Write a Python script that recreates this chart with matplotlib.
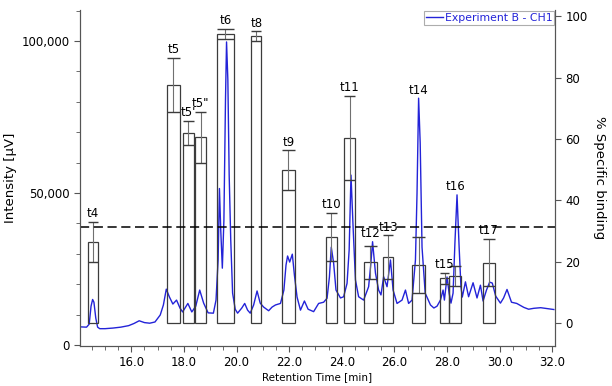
import matplotlib
matplotlib.use("Agg")
import matplotlib.pyplot as plt
from matplotlib.ticker import MultipleLocator, FuncFormatter

# chromatogram trace (retention time in min, intensity in uV)
rt = [14.05, 14.30, 14.40, 14.47, 14.53, 14.58, 14.65, 14.72, 14.80, 15.0,
      15.3, 15.6, 15.9, 16.1, 16.3, 16.5, 16.7, 16.9, 17.1, 17.22,
      17.33, 17.45, 17.58, 17.72, 17.85, 17.95, 18.15, 18.3, 18.45, 18.6,
      18.75, 18.92, 19.12, 19.22, 19.30, 19.35, 19.40, 19.46, 19.52, 19.58,
      19.62, 19.67, 19.72, 19.78, 19.85, 19.95, 20.04, 20.2, 20.31, 20.42,
      20.52, 20.65, 20.78, 20.9, 21.03, 21.22, 21.35, 21.48, 21.67, 21.8,
      21.88, 21.94, 22.02, 22.12, 22.2, 22.3, 22.43, 22.58, 22.72, 22.93,
      23.12, 23.31, 23.44, 23.53, 23.60, 23.69, 23.78, 23.95, 24.07, 24.2,
      24.28, 24.35, 24.43, 24.52, 24.64, 24.83, 25.02, 25.10, 25.17, 25.28,
      25.4, 25.49, 25.59, 25.72, 25.85, 25.95, 26.1, 26.29, 26.42, 26.54,
      26.67, 26.8, 26.86, 26.92, 26.98, 27.05, 27.17, 27.37, 27.5, 27.62,
      27.75, 27.85, 27.9, 28.0, 28.08, 28.15, 28.23, 28.3, 28.38, 28.46,
      28.53, 28.58, 28.7, 28.82, 28.99, 29.14, 29.27, 29.37, 29.5, 29.62,
      29.72, 29.85, 30.03, 30.15, 30.28, 30.45, 30.65, 30.92, 31.1, 31.3,
      31.56, 31.81, 32.06]
intensity = [6000, 5900, 6900, 12800, 15000, 14100, 8900, 5900, 5400, 5400,
             5600, 5900, 6400, 7100, 8000, 7400, 7200, 7600, 9900, 13200,
             18400, 15800, 13500, 14800, 12200, 10900, 13700, 10900, 12800, 18100,
             13800, 10600, 10500, 14800, 28000, 51500, 37800, 25300, 41100, 80600,
             99700, 87200, 55900, 34500, 17100, 11800, 10500, 12200, 13700, 11500,
             10500, 13200, 17800, 13800, 12500, 11300, 12500, 13200, 13700, 18100,
             26300, 29300, 27300, 29900, 23000, 15800, 11500, 14500, 11800, 11000,
             13700, 14100, 15400, 22400, 32200, 27000, 18100, 15500, 15900, 20300,
             31300, 55900, 38800, 21400, 15900, 14800, 19200, 26300, 34000, 23700,
             18100, 16500, 22500, 19200, 28000, 18100, 13700, 14800, 18100, 13700,
             14800, 28000, 50000, 81200, 66500, 32200, 17100, 13200, 12200, 12800,
             14800, 18100, 14800, 22400, 17100, 13800, 17100, 33600, 49400, 32200,
             19100, 15800, 20800, 15900, 20500, 15500, 19700, 14500, 18100, 20700,
             20400, 16100, 13800, 15500, 18300, 14100, 13700, 12400, 11800, 12100,
             12300, 12000, 11700]

# collected fractions (% specific binding, mean and SD)
fractions = ["t4", "t5", "t5'", "t5\"", "t6", "t8", "t9", "t10", "t11",
             "t12", "t13", "t14", "t15", "t16", "t17"]
frac_start = [14.35, 17.34, 17.97, 18.43, 19.27, 20.56, 21.73, 23.39, 24.07,
              24.86, 25.56, 26.66, 27.74, 28.08, 29.38]
frac_end = [14.73, 17.85, 18.37, 18.84, 19.89, 20.94, 22.21, 23.82, 24.52,
            25.32, 25.95, 27.18, 28.08, 28.54, 29.81]
binding = [26.5, 77.6, 61.9, 60.5, 94.3, 93.5, 49.8, 28.0, 60.3,
           19.8, 21.5, 18.9, 14.6, 15.3, 19.7]
binding_sd = [6.5, 8.8, 4.0, 8.3, 1.6, 1.6, 6.6, 7.9, 13.8,
              5.4, 7.2, 9.1, 1.8, 3.2, 7.8]
threshold = 31.4

axis_col = "#555555"
blue = "#2323d8"

fig = plt.figure(figsize=(6.12, 3.86), dpi=100)
ax = fig.add_axes([0.1307, 0.1036, 0.776, 0.8705])
ax2 = ax.twinx()

ax.plot(rt, intensity, color=blue, lw=1.0, label="Experiment B - CH1", zorder=3)
ax.set_xlim(14.05, 32.1)
ax.set_ylim(-300, 110200)
ax.xaxis.set_major_locator(MultipleLocator(2.0))
ax.xaxis.set_minor_locator(MultipleLocator(0.5))
ax.xaxis.set_major_formatter(FuncFormatter(lambda v, p: f"{v:.1f}"))
ax.yaxis.set_major_locator(MultipleLocator(50000))
ax.yaxis.set_minor_locator(MultipleLocator(10000))
ax.yaxis.set_major_formatter(FuncFormatter(lambda v, p: f"{v:,.0f}"))
ax.set_xlabel("Retention Time [min]", fontsize=7.5, labelpad=2)
ax.set_ylabel("Intensity [µV]", fontsize=9.5, labelpad=3)

ax2.set_ylim(-7.5, 102)

# bars with error bars on the right axis
widths = [e - s for s, e in zip(frac_start, frac_end)]
ax2.bar(frac_start, binding, width=widths, align="edge", facecolor="none",
        edgecolor="#3c3c3c", lw=0.9, zorder=2)
for name, s, e, m, sd in zip(fractions, frac_start, frac_end, binding, binding_sd):
    c = (s + e) / 2
    ax2.vlines(c, m - sd, m + sd, color="#707070", lw=0.8)
    ax2.hlines([m - sd, m + sd], s, e, color="#3c3c3c", lw=1.0)
    # label sits above the error bar or the trace peak, whichever is higher
    peak = max(v for t, v in zip(rt, intensity) if s <= t <= e)
    y_peak = ax.transData.transform((c, peak))[1]
    y_cap = ax2.transData.transform((c, m + sd))[1]
    y_lab = ax2.transData.inverted().transform((0, max(y_peak, y_cap)))[1]
    ax2.annotate(name, (c, y_lab), xytext=(0, 1), textcoords="offset points",
                 ha="center", va="bottom", fontsize=8.5)
ax2.axhline(threshold, color="black", lw=1.1, ls=(0, (6, 3)))
ax2.yaxis.set_major_locator(MultipleLocator(20))
ax2.set_ylabel("% Specific binding", fontsize=9.5, rotation=270, labelpad=13)

for a in (ax, ax2):
    a.spines["top"].set_visible(False)
    for sp in a.spines.values():
        sp.set_color(axis_col)
    a.tick_params(which="both", colors=axis_col, labelcolor="black", labelsize=8.5)
    a.tick_params(which="major", length=4)
    a.tick_params(which="minor", length=3)

leg = ax2.legend(*ax.get_legend_handles_labels(), loc="upper right",
                 fontsize=7.8, frameon=True, fancybox=False, borderpad=0.2,
                 handlelength=1.6, handletextpad=0.1, borderaxespad=0.05)
leg.get_frame().set_edgecolor("#999999")
leg.get_frame().set_linewidth(0.8)
for t in leg.get_texts():
    t.set_color(blue)

fig.savefig("out.png", dpi=100)
